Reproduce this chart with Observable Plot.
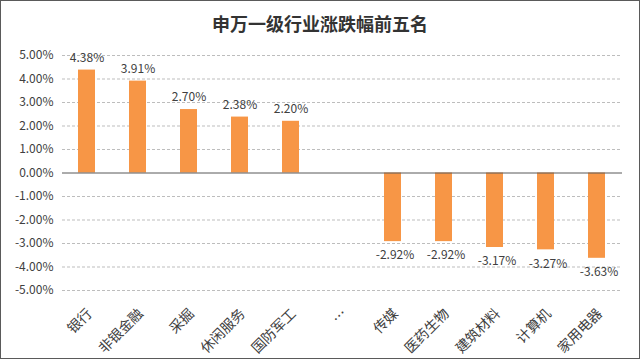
<!DOCTYPE html>
<html><head><meta charset="utf-8">
<script src="https://cdn.jsdelivr.net/npm/d3@7"></script>
<script src="https://cdn.jsdelivr.net/npm/@observablehq/plot@0.6"></script>
<style>
body{margin:0;background:#fff}
#frame{width:640px;height:359px;box-sizing:border-box;border:1px solid #5a5a5a;font-family:"Noto Sans CJK SC",sans-serif;overflow:hidden;background:#fff}
#title{height:40px;line-height:44px;text-align:center;font-size:18px;font-weight:bold;color:#333}
</style></head><body>
<div id="frame"><div id="title">申万一级行业涨跌幅前五名</div><div id="chart"></div></div>
<script>
const industries = ["银行","非银金融","采掘","休闲服务","国防军工","…","传媒","医药生物","建筑材料","计算机","家用电器"];
const changes = [4.38, 3.91, 2.70, 2.38, 2.20, null, -2.92, -2.92, -3.17, -3.27, -3.63];
const yTicks = [-5, -4, -3, -2, -1, 0, 1, 2, 3, 4, 5];

const data = industries.map((name, i) => ({name, value: changes[i]}));
const bars = data.filter(d => d.value != null);
const fmt = v => v.toFixed(2) + "%";
const font = '"Noto Sans CJK SC", sans-serif';

const chart = Plot.plot({
  width: 638, height: 317,
  marginTop: 14, marginBottom: 68, marginLeft: 61, marginRight: 17,
  style: {fontFamily: font, fontSize: "12px", color: "#404040", background: "#fff"},
  x: {domain: industries, paddingInner: 0.66, paddingOuter: 0.32, axis: null},
  y: {domain: [-5, 5], axis: null},
  marks: [
    Plot.gridY(yTicks.filter(t => t !== 0), {stroke: "#bdbdbd", strokeOpacity: 1, strokeDasharray: "3,2"}),
    Plot.axisY(yTicks, {tickFormat: fmt, tickSize: 0, tickPadding: 9, label: null, fontSize: 12, fill: "#404040"}),
    Plot.barY(bars, {x: "name", y: "value", fill: "#F79646"}),
    Plot.ruleY([0], {stroke: "#595959", strokeWidth: 1}),
    Plot.text(bars.filter(d => d.value > 0), {x: "name", y: "value", text: d => fmt(d.value), dy: -12, fontSize: 12, fill: "#404040"}),
    Plot.text(bars.filter(d => d.value < 0), {x: "name", y: "value", text: d => fmt(d.value), dy: 14, dx: 2, fontSize: 12, fill: "#404040"}),
    Plot.text(industries, {x: d => d, frameAnchor: "bottom", rotate: -45, textAnchor: "end", dx: 6, dy: 24, fontSize: 14, fill: "#404040"})
  ]
});
document.getElementById("chart").appendChild(chart);
</script>
</body></html>
